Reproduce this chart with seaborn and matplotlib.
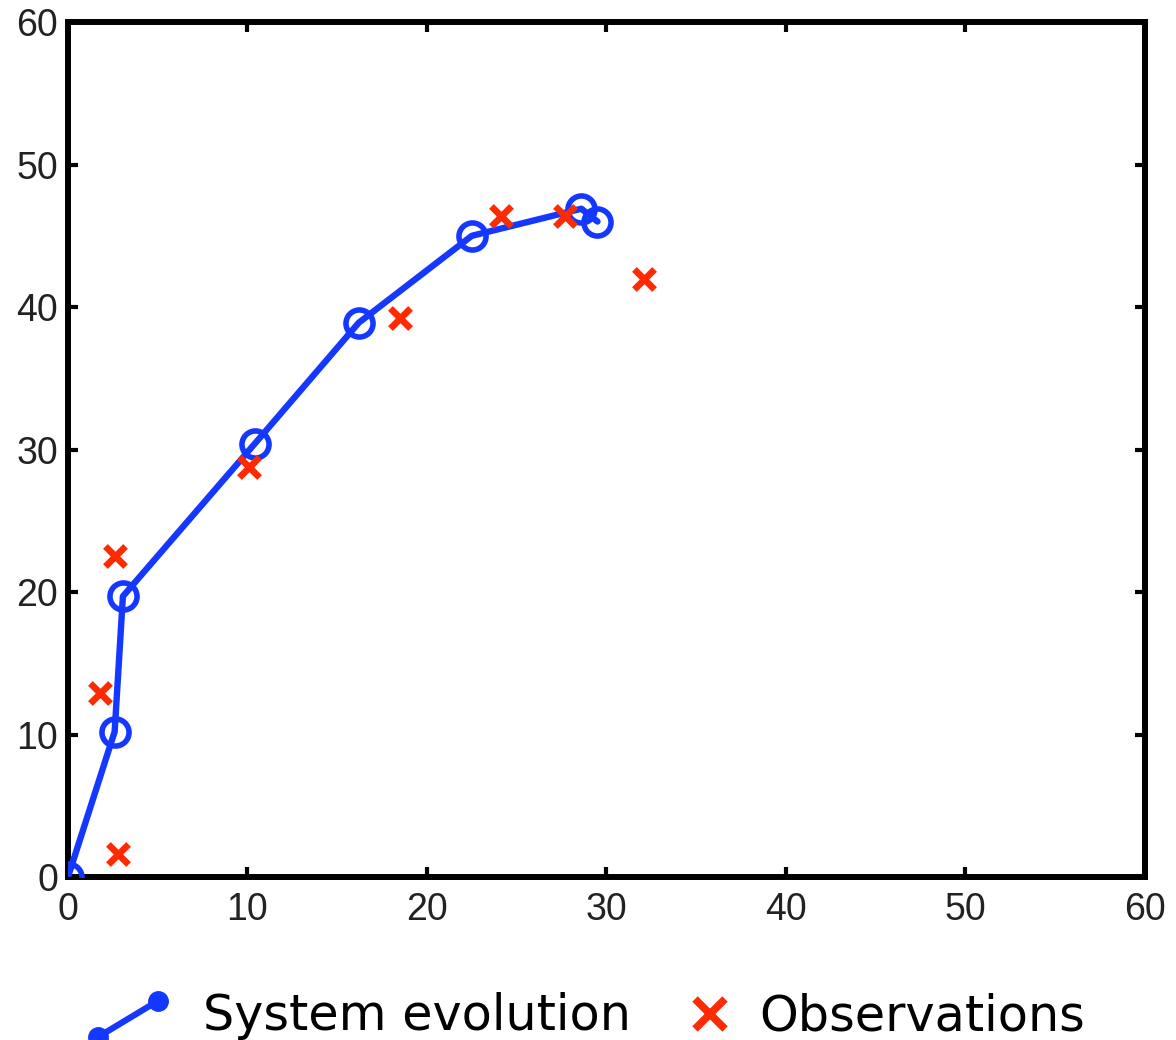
import matplotlib
matplotlib.use("Agg")
import matplotlib.pyplot as plt
import seaborn as sns
import pandas as pd
from matplotlib.lines import Line2D
from matplotlib.legend_handler import HandlerBase

# data
sys_x = [0.0, 2.6, 3.06, 10.4, 16.2, 22.5, 28.6, 29.5]
sys_y = [0.0, 10.2, 19.7, 30.4, 38.9, 45.0, 46.9, 46.0]
obs_x = [1.8, 2.6, 2.8, 10.1, 18.5, 24.1, 27.7, 32.1]
obs_y = [12.9, 22.5, 1.6, 28.8, 39.2, 46.4, 46.4, 42.0]
ticks = [0, 10, 20, 30, 40, 50, 60]

BLUE = "#1438ff"
RED = "#ff2a00"

sns.set_theme(style="white")
plt.rcParams['font.family'] = ['Liberation Sans', 'DejaVu Sans']

fig = plt.figure(figsize=(11.76, 10.4), dpi=100)
ax = fig.add_axes([0.0578, 0.1567, 0.9158, 0.8221])

df_sys = pd.DataFrame({"x": sys_x, "y": sys_y})
df_obs = pd.DataFrame({"x": obs_x, "y": obs_y})

sns.lineplot(data=df_sys, x="x", y="y", sort=False, ax=ax, color=BLUE,
             linewidth=4.6, marker="o", markersize=19.5, markerfacecolor="none",
             markeredgecolor=BLUE, markeredgewidth=4.0, zorder=3)
sns.scatterplot(data=df_obs, x="x", y="y", ax=ax, marker="x", s=210,
                color=RED, linewidth=4.8, zorder=4)

ax.set_xlim(0, 60)
ax.set_ylim(0, 60)
ax.set_xticks(ticks)
ax.set_yticks(ticks)
ax.set_xlabel("")
ax.set_ylabel("")
for s in ax.spines.values():
    s.set_linewidth(4.3)
    s.set_color("black")
    s.set_visible(True)
ax.tick_params(direction="in", length=7, width=3, top=True, right=True,
               bottom=True, left=True, labelsize=27, colors="black")
ax.tick_params(axis="x", pad=11)
ax.tick_params(axis="y", pad=7)
for lab in ax.get_xticklabels() + ax.get_yticklabels():
    lab.set_color("#222222")
ax.set_facecolor("white")


class DiagHandler(HandlerBase):
    def create_artists(self, legend, orig_handle, xdescent, ydescent,
                       width, height, fontsize, trans):
        ln = Line2D([0, width], [-height * 0.2, height * 0.85],
                    color=BLUE, linewidth=4.5, marker="o", markersize=14,
                    markerfacecolor=BLUE, markeredgecolor=BLUE)
        ln.set_transform(trans)
        return [ln]


class XHandler(HandlerBase):
    def create_artists(self, legend, orig_handle, xdescent, ydescent,
                       width, height, fontsize, trans):
        ln = Line2D([width - 3], [height * 0.47], color=RED, linestyle="none",
                    marker="x", markersize=21, markeredgewidth=5.5)
        ln.set_transform(trans)
        return [ln]


h_sys = Line2D([], [], color=BLUE)
h_obs = Line2D([], [], color=RED)
leg = fig.legend([h_sys, h_obs], ["System evolution", "Observations"],
                 handler_map={h_sys: DiagHandler(), h_obs: XHandler()},
                 loc="lower center", bbox_to_anchor=(0.503, -0.043), ncol=2,
                 frameon=False, prop={"family": "DejaVu Sans", "size": 35.5},
                 handlelength=1.22, handletextpad=0.92, columnspacing=0.47)
for t in leg.get_texts():
    t.set_color("black")

fig.savefig("out.png", dpi=100, facecolor="white")
